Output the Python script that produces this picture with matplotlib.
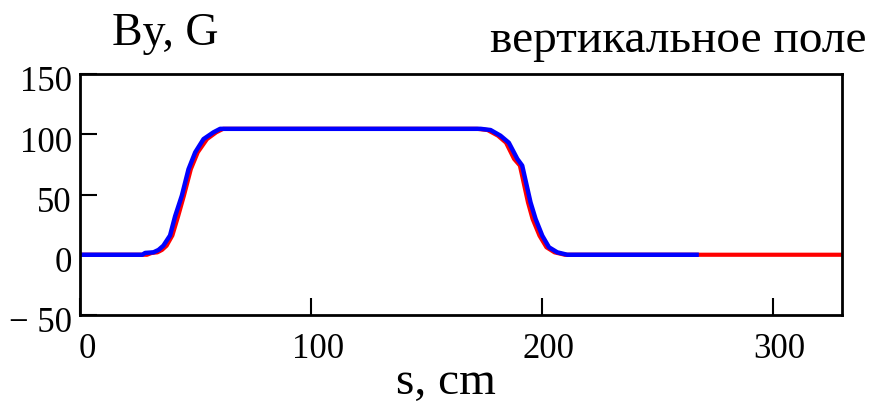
import matplotlib
matplotlib.use("Agg")
from matplotlib import pyplot as plt
from matplotlib.transforms import ScaledTranslation

# measured field along the beam line (blue) and model (red)
s_meas = [0, 27, 28.2, 31.8, 34, 36.1, 39, 41.2, 44.1, 47, 49.9, 53.5, 57.8, 60.7,
          173.5, 177.8, 182.1, 185.7, 189.4, 191.5, 195.1, 197.3, 200.2, 203.1, 206.7, 211, 268]
by_meas = [0, 0, 1.5, 2, 4, 7.5, 16, 32, 49, 71, 85, 96, 101.6, 104.5,
           104.5, 103.5, 98.8, 93, 79.5, 74, 43.5, 29.7, 15.8, 6.2, 2, 0, 0]

s_model = [0, 29, 31, 33.5, 35.5, 37.5, 40, 42.5, 45, 48, 51, 55, 59, 62,
           172, 176.5, 181, 184.5, 188, 190.5, 194, 196, 199, 202, 205.5, 210, 330]
by_model = [0, 0, 1.5, 2, 4, 7.5, 16, 32, 49, 71, 85, 96, 101.6, 104.5,
            104.5, 103.5, 98.8, 93, 79.5, 74, 43.5, 29.7, 15.8, 6.2, 2, 0, 0]

xticks = [0, 100, 200, 300]
yticks = [-50, 0, 50, 100, 150]
ytick_labels = ["\u2212 50", "0", "50", "100", "150"]

plt.rcParams["font.family"] = ["Liberation Serif", "DejaVu Serif"]

fig = plt.figure(figsize=(8.92, 4.06), dpi=100)
ax = fig.add_axes([80 / 892, 90 / 406, 762 / 892, 241 / 406])

ax.plot(s_model, by_model, color="red", lw=3.0, solid_capstyle="butt")
ax.plot(s_meas, by_meas, color="blue", lw=3.2, solid_capstyle="butt")

ax.set_xlim(0, 330)
ax.set_ylim(-50, 150)
ax.set_xticks(xticks)
ax.set_yticks(yticks)
ax.set_yticklabels(ytick_labels)
ax.tick_params(direction="in", length=12, width=1.5, labelsize=25)
ax.tick_params(axis="x", pad=12)
ax.tick_params(axis="y", pad=6)
for lab in ax.get_xticklabels():
    lab.set_transform(lab.get_transform() + ScaledTranslation(7 / 100, 0, fig.dpi_scale_trans))
for lab in ax.get_yticklabels():
    lab.set_transform(lab.get_transform() + ScaledTranslation(0, -4 / 100, fig.dpi_scale_trans))
for sp in ax.spines.values():
    sp.set_linewidth(2)

fig.text(112 / 892, 1 - 45 / 406, "By, G", fontsize=33, ha="left", va="baseline")
fig.text(867 / 892, 1 - 52 / 406, "вертикальное поле", fontsize=34, ha="right", va="baseline")
fig.text(446 / 892, 1 - 394 / 406, "s, cm", fontsize=34, ha="center", va="baseline")

fig.savefig("out.png", dpi=100)
